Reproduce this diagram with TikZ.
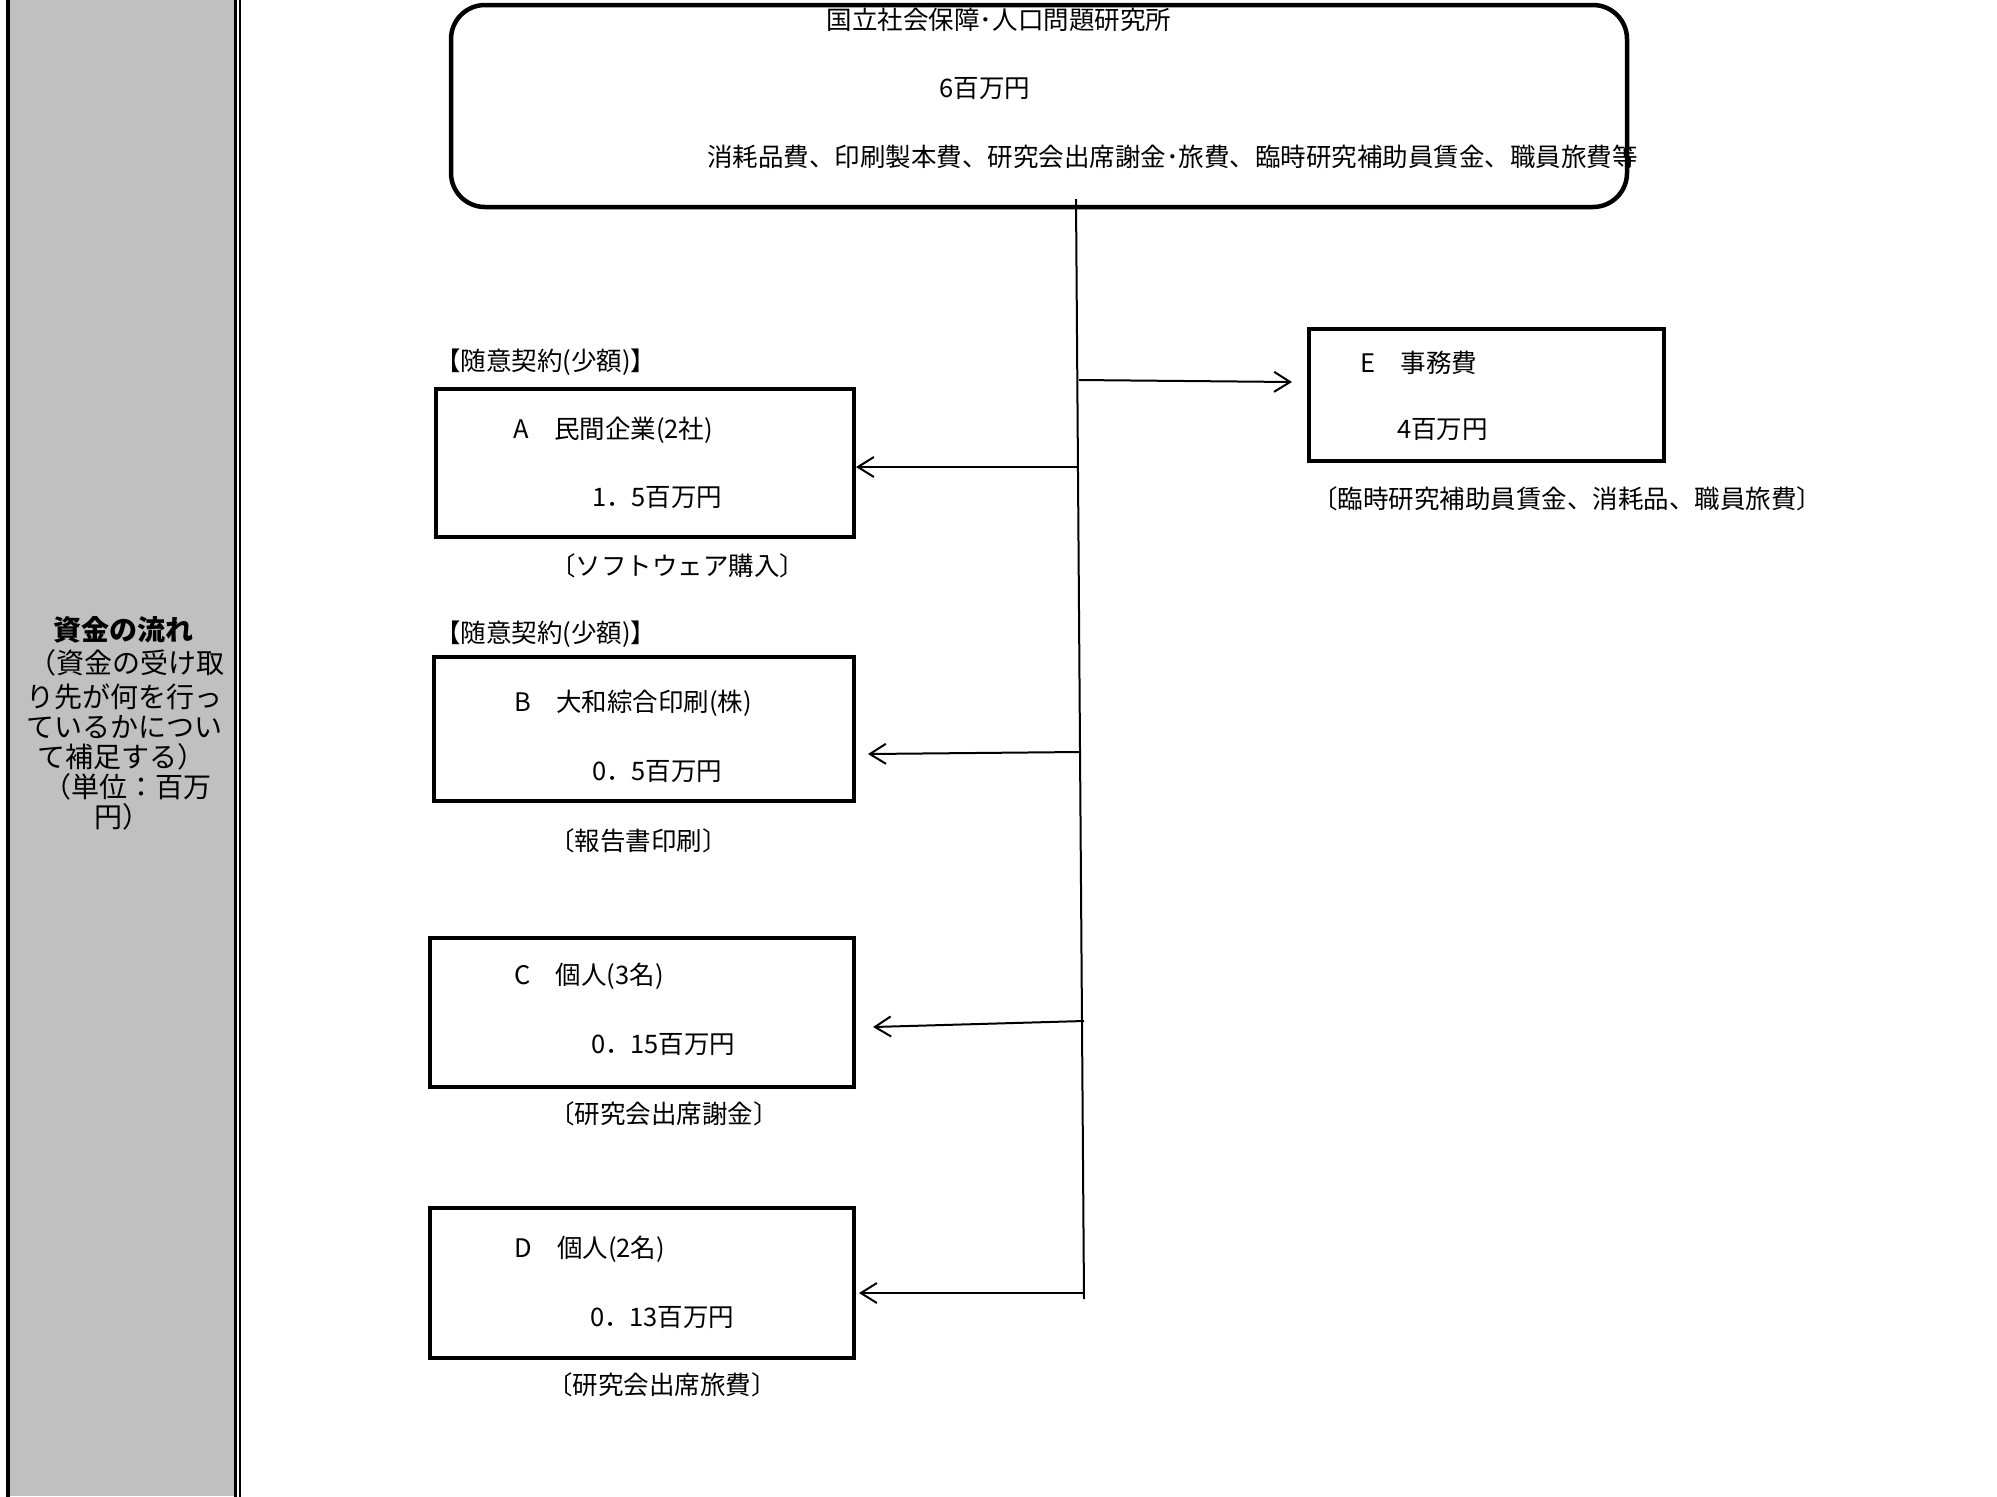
\documentclass[tikz,border=0pt]{standalone}
\usepackage{fontspec}
\setmainfont{Noto Sans CJK JP}
\usetikzlibrary{arrows.meta}
\definecolor{panelgray}{HTML}{C0C0C0}
\begin{document}
\begin{tikzpicture}[x=0.5pt,y=-0.5pt,
  every node/.style={inner sep=0pt,outer sep=0pt},
  lbl/.style={anchor=west,font=\fontsize{12.75}{15}\selectfont},
  ctr/.style={anchor=center,font=\fontsize{12.75}{15}\selectfont},
  side/.style={anchor=center,font=\fontsize{14}{16}\selectfont},
  fbox/.style={draw,line width=2.25pt},
  conn/.style={line width=1pt},
  arr/.style={line width=1pt,-{Straight Barb[length=8pt,width=10pt]}}]
\useasboundingbox (0,0) rectangle (1997,1496);
% left panel
\fill[panelgray] (10,0) rectangle (234,1496);
\draw[line width=2pt] (8,-5) -- (8,1501);
\draw[line width=1.5pt] (235.8,-5) -- (235.8,1501);
\draw[line width=1pt] (239.7,-5) -- (239.7,1501);
\node[side,font=\fontsize{14}{16}\selectfont\bfseries] (s1) at (124,630) {資金の流れ};
\node[side] (s2) at (126,663) {（資金の受け取};
\node[side] (s3) at (124,697) {り先が何を行っ};
\node[side] (s4) at (124,727) {ているかについ};
\node[side] (s5) at (122,757) {て補足する）};
\node[side] (s6) at (127,787) {（単位：百万};
\node[side] (s7) at (122,817) {円）};
% boxes
\node[fbox,rounded corners=17pt,minimum width=588pt,minimum height=101pt] (top) at (1039,106) {};
\node[fbox,minimum width=209pt,minimum height=74pt] (A) at (645,463) {};
\node[fbox,minimum width=210pt,minimum height=72pt] (B) at (644,729) {};
\node[fbox,minimum width=212pt,minimum height=74.5pt] (C) at (642,1012.5) {};
\node[fbox,minimum width=212pt,minimum height=75pt] (D) at (642,1283) {};
\node[fbox,minimum width=177.5pt,minimum height=66pt] (E) at (1486.5,395) {};
% top box texts
\node[ctr] (t1) at (999,20) {国立社会保障･人口問題研究所};
\node[ctr] (t2) at (985,89) {6百万円};
\node[lbl] (t3) at (707,157) {消耗品費、印刷製本費、研究会出席謝金･旅費、臨時研究補助員賃金、職員旅費等};
% A
\node[lbl] (kA) at (435,362) {【随意契約(少額)】};
\node[lbl] (A1) at (513,430) {A　民間企業(2社)};
\node[lbl] (A2) at (592,498) {1．5百万円};
\node[lbl] (A3) at (550,566) {〔ソフトウェア購入〕};
% B
\node[lbl] (kB) at (435,634) {【随意契約(少額)】};
\node[lbl] (B1) at (514,703) {B　大和綜合印刷(株)};
\node[lbl] (B2) at (592,772) {0．5百万円};
\node[lbl] (B3) at (549,841) {〔報告書印刷〕};
% C
\node[lbl] (C1) at (514,976) {C　個人(3名)};
\node[lbl] (C2) at (591,1045) {0．15百万円};
\node[lbl] (C3) at (549,1114) {〔研究会出席謝金〕};
% D
\node[lbl] (D1) at (514,1249) {D　個人(2名)};
\node[lbl] (D2) at (590,1317) {0．13百万円};
\node[lbl] (D3) at (547,1385) {〔研究会出席旅費〕};
% E
\node[lbl] (E1) at (1360,363) {E　事務費};
\node[lbl] (E2) at (1397,430) {4百万円};
\node[lbl] (E3) at (1312,499) {〔臨時研究補助員賃金、消耗品、職員旅費〕};
% connectors
\coordinate (trTop) at (1076,199);
\coordinate (trBot) at (1084,1299);
\draw[conn] (trTop) -- (trBot);
\coordinate (sE) at (1079,380);
\coordinate (hE) at (1292,382);
\coordinate (sA) at (1078,467);
\coordinate (hA) at (856,467);
\coordinate (sB) at (1079,752);
\coordinate (hB) at (868,754);
\coordinate (sC) at (1084,1021);
\coordinate (hC) at (873,1027);
\coordinate (sD) at (1083,1293);
\coordinate (hD) at (859,1293);
\draw[arr] (sE) -- (hE);
\draw[arr] (sA) -- (hA);
\draw[arr] (sB) -- (hB);
\draw[arr] (sC) -- (hC);
\draw[arr] (sD) -- (hD);
\end{tikzpicture}
\end{document}
